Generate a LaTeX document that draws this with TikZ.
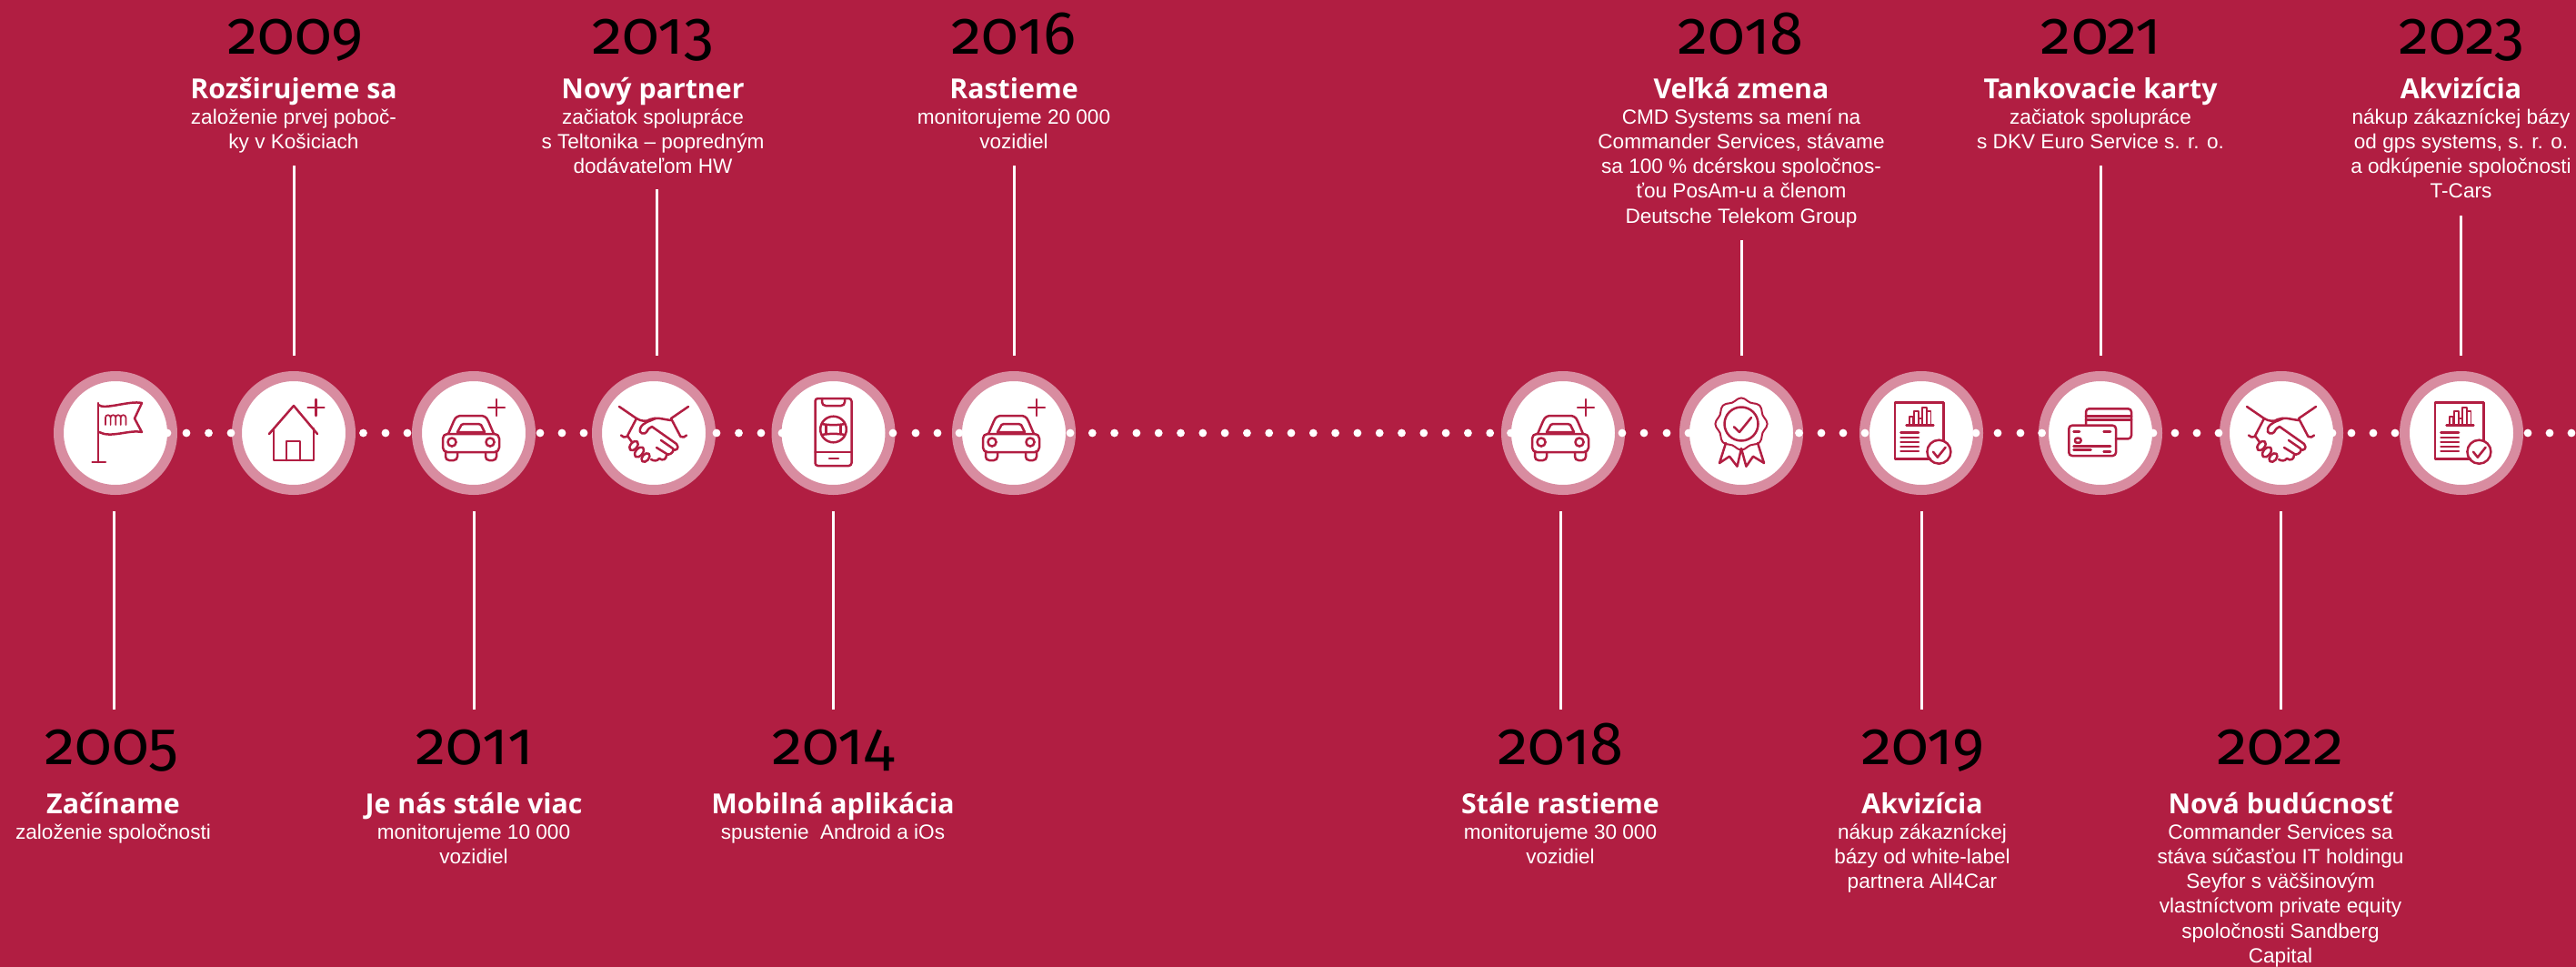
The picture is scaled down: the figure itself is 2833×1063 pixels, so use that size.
\documentclass[tikz,border=0pt]{standalone}
\usepackage{fontspec}
\setmainfont{Liberation Sans}
\newfontfamily\yearfont[Numbers=OldStyle]{Fira Sans}
\newfontfamily\titlefont[BoldFont={* Bold}]{Open Sans}
\definecolor{crim}{RGB}{177,30,66}
\definecolor{ringc}{RGB}{216,140,160}
\tikzset{
  yearnode/.style={anchor=base,inner sep=0pt,text=black,font=\yearfont\fontsize{67}{67}\selectfont},
  titlenode/.style={anchor=base,inner sep=0pt,text=white,font=\titlefont\bfseries\fontsize{30.3}{30.3}\selectfont},
  bodynode/.style={anchor=north,inner sep=0pt,text=white,align=center,font=\fontsize{22.6}{27.2}\selectfont},
  ringnode/.style={circle,draw=ringc,fill=white,line width=11pt,minimum size=125pt,inner sep=0pt},
  connline/.style={draw=white,line width=3pt},
  ic/.style={draw=crim,line width=2.5pt,line cap=round,line join=round,fill=none},
  dotmark/.style={fill=white},
  plusmark/.pic={\draw[ic] (-9,0) -- (9,0) (0,-9) -- (0,9);},
  flagicon/.pic={
    \draw[ic] (-19,-33) -- (-19,32) (-25.5,32) -- (-11,32);
    \draw[ic] (-19,-31) .. controls (-12,-25) and (15,-36) .. (29,-33) -- (21,-16) -- (29,-1)
       .. controls (15,-4) and (-5,6) .. (-18,-1);
    \draw[ic,line width=1.7pt] (-11,-9) -- (-11,-17) arc[start angle=180,end angle=0,radius=2.8pt] -- (-5.4,-9)
       (-5.4,-17) arc[start angle=180,end angle=0,radius=2.8pt] -- (0.2,-9)
       (0.2,-17) arc[start angle=180,end angle=0,radius=2.8pt] -- (5.8,-9)
       (5.8,-17) arc[start angle=180,end angle=0,radius=2.8pt] -- (11.4,-9);
  },
  houseicon/.pic={
    \draw[ic] (-27,1) -- (0,-30) -- (26,1);
    \draw[ic] (-22,-5) -- (-22,30) -- (22,30) -- (22,-5);
    \draw[ic] (-8,30) -- (-8,9) -- (7,9) -- (7,30);
    \path (24.5,-28) pic {plusmark};
  },
  caricon/.pic={
    \draw[ic] (-28,1) -- (-22,-13) .. controls (-20,-18) and (-17,-19) .. (-13,-19) -- (7,-19)
      .. controls (11,-19) and (14,-18) .. (16,-13) -- (22,1);
    \draw[ic] (-18,-1) -- (-13.5,-9) .. controls (-13,-10) and (-12,-10) .. (-11,-10) -- (5,-10)
      .. controls (6,-10) and (7,-10) .. (8,-9) -- (12,-1) -- cycle;
    \draw[ic,rounded corners=5pt] (-34,1) rectangle (28,21);
    \draw[ic,rounded corners=4pt] (-31,21) -- (-31,30) -- (-18,30) -- (-18,21);
    \draw[ic,rounded corners=4pt] (13,21) -- (13,30) -- (25,30) -- (25,21);
    \draw[ic] (-24,10) circle (4.6pt) (18,10) circle (4.6pt);
    \path (25,-28) pic {plusmark};
  },
  shakeicon/.pic={
    \draw[ic] (-38,-29) -- (-19,-16) -- (-29.5,4) (-36,2.5) -- (-33,4.5) -- (-29.5,4);
    \draw[ic] (38,-29) -- (19,-16) -- (29.5,4) (36,2.5) -- (33,4.5) -- (29.5,4);
    \draw[ic] (-19,-16) .. controls (-14,-13) and (-8,-12) .. (-4,-15) .. controls (3,-18) and (10,-15) .. (19,-14);
    \draw[ic] (2,-16) .. controls (-4,-13) and (-12,-12) .. (-15,-5) .. controls (-17,1) and (-10,2) .. (-8,-1)
      .. controls (-6,-5) and (-4,-6) .. (-2,-7) -- (25,12) .. controls (29,17) and (24,20) .. (21,18);
    \draw[ic] (8,8) -- (21,17) (3,16) -- (16,24);
    \draw[ic] (22,18) .. controls (20,24) and (17,23) .. (14,24) .. controls (14,29) and (10,31) .. (6,28) .. controls (4,31) and (0,31) .. (-3,29);
    \draw[ic] (-29,3) -- (-24,10);
    \draw[ic,rotate around={50:(-22,14)}] (-22,14) ellipse[x radius=6pt,y radius=3.6pt];
    \draw[ic,rotate around={50:(-16,21)}] (-16,21) ellipse[x radius=6.5pt,y radius=3.8pt];
    \draw[ic,rotate around={50:(-9,27)}] (-9,27) ellipse[x radius=5.5pt,y radius=3.6pt];
  },
  phoneicon/.pic={
    \draw[ic,rounded corners=3pt] (-20,-38) rectangle (20,36);
    \draw[ic,rounded corners=4pt] (-12.5,-38) -- (-12.5,-30) -- (12.5,-30) -- (12.5,-38);
    \draw[ic] (-20,21) -- (20,21) (-4.5,28) -- (5.5,28);
    \draw[ic] (0,-4) circle (14.3pt);
    \draw[ic] (-12.5,-10) .. controls (-6,-8.5) and (6,-8.5) .. (12.5,-10);
    \draw[ic] (-12.5,2) .. controls (-6,0.5) and (6,0.5) .. (12.5,2);
    \draw[ic] (-8,-9) -- (-8,1) (8,-9) -- (8,1);
  },
  rosetteicon/.pic={
    \draw[ic,line width=2pt] plot[smooth cycle,samples=48,domain=0:352.5] ({(27+1.6*cos(8*\x))*cos(\x)},{-10+(27+1.6*cos(8*\x))*sin(\x)});
    \draw[ic] (0,-10) circle (18.5pt);
    \draw[ic] (-8,-6.7) -- (-2,-1) -- (11,-17);
    \draw[ic] (-17,11) -- (-24,33) -- (-13,25.7) -- (-4.5,36.7) -- (0,17) -- (5.4,36.7) -- (13,25.7) -- (25,33) -- (18,11);
  },
  docicon/.pic={
    \draw[ic] (10,28.3) -- (-29,28.3) -- (-29,-33.7) -- (24.5,-33.7) -- (24.5,9);
    \draw[ic] (-16.5,-8.7) -- (13.4,-8.7);
    \draw[ic,line width=1.7pt] (-13,-8.7) -- (-13,-18) -- (-9,-18) -- (-9,-8.7)
      (-8,-8.7) -- (-8,-24) -- (-3,-24) -- (-3,-8.7) (-3,-16) -- (1,-16)
      (1,-8.7) -- (1,-28) -- (6,-28) -- (6,-8.7) (6.5,-23.7) -- (10.5,-23.7) -- (10.5,-8.7);
    \draw[ic] (-22.6,-0.3) -- (-3,-0.3) (-22.6,5) -- (-3,5) (-22.6,10) -- (-3,10) (-22.6,15) -- (-3,15) (-22.6,20) -- (-3,20);
    \draw[ic] (19.4,20.7) circle (13pt);
    \draw[ic] (13,20.7) -- (17.8,26.7) -- (26.6,15.7);
  },
  cardicon/.pic={
    \draw[ic,rounded corners=3.5pt] (-16,-8.3) -- (-16,-26.7) -- (34,-26.7) -- (34,6.3) -- (17,6.3);
    \draw[ic] (-16,-18.7) -- (34,-18.7) (-16,-14.3) -- (34,-14.3);
    \draw[ic,rounded corners=3.5pt] (-34.7,-8.3) rectangle (17,25);
    \draw[ic] (-29.5,-1.3) -- (-23,-1.3) (3.6,-1.3) -- (11,-1.3);
    \draw[ic,rounded corners=2pt] (-28,5.7) rectangle (-21.5,10.7);
    \draw[ic] (-29.5,14.7) -- (11,14.7) (-29.5,18.7) -- (-10.5,18.7) (3.6,20.7) -- (11,20.7);
  }
}
% event text: id, year x, text x, year text, title, body, year base, title base, body top
\newcommand{\evtext}[9]{%
  \node[yearnode] (#1y) at (#2,#7) {#4};
  \node[titlenode] (#1t) at (#3,#8) {#5};
  \node[bodynode] (#1b) at (#3,#9) {\rule{0pt}{17pt}#6};
}
\newcommand{\evtop}[6]{\evtext{#1}{#2}{#3}{#4}{#5}{#6}{59}{108}{119}}
\newcommand{\evbot}[6]{\evtext{#1}{#2}{#3}{#4}{#5}{#6}{840}{894}{905}}
\newcommand{\conn}[4]{%
  \coordinate (#1a) at (#2,#3);
  \coordinate (#1b) at (#2,#4);
  \draw[connline] (#1a) -- (#1b);
}
\begin{document}
\begin{tikzpicture}[x=1pt,y=-1pt]
\useasboundingbox (0,0) rectangle (2833,1063);
\fill[crim] (0,0) rectangle (2833,1063);
% rings and icons
\foreach \n/\cx/\ic in {a/127/flagicon,b/323/houseicon,c/521/caricon,d/719/shakeicon,e/916.5/phoneicon,f/1115/caricon,g/1719/caricon,h/1915/rosetteicon,i/2113/docicon,j/2310/cardicon,k/2509/shakeicon,l/2707/docicon}{
  \node[ringnode] (c\n) at (\cx,476) {};
  \path (c\n.center) pic {\ic};
}
% dots
\foreach \x in {184,205,229.5,254,399.5,424,448,594,618,642,788,812.5,837,860,982,1007,1031,1055,
  1784,1808,1833,1857,1978.5,2003,2027,2051,2173,2197,2222,2245.6,2368,2392,2416,2440,2565,2586,2610,2634,2780,2804,2828}
  \fill[dotmark] (\x,476) circle (4.4pt);
\foreach \k in {0,...,19}
  \fill[dotmark] ({1177+\k*24.3},476) circle (4.4pt);
\fill[dotmark] (1661.5,476) circle (4.4pt);
% connectors
\conn{la}{125}{562}{780}
\conn{lb}{323}{182}{391}
\conn{lc}{521}{562}{780}
\conn{ld}{722}{208}{391}
\conn{le}{916.5}{562}{780}
\conn{lf}{1115}{182}{391}
\conn{lg}{1716}{562}{780}
\conn{lh}{1915}{264}{391}
\conn{li}{2113}{562}{780}
\conn{lj}{2310}{182}{391}
\conn{lk}{2508}{562}{780}
\conn{ll}{2706.5}{237}{391}
% texts
\evbot{ta}{123}{124.5}{2005}{Začíname}{založenie spoločnosti}
\evtop{tb}{325}{323}{2009}{Rozširujeme sa}{založenie prvej poboč-\\ky v Košiciach}
\evbot{tc}{522}{521}{2011}{Je nás stále viac}{monitorujeme 10 000\\vozidiel}
\evtop{td}{718}{718}{2013}{Nový partner}{začiatok spolupráce\\s Teltonika – popredným\\dodávateľom HW}
\evbot{te}{916}{916}{2014}{Mobilná aplikácia}{spustenie \ Android a iOs}
\evtop{tf}{1115}{1115}{2016}{Rastieme}{monitorujeme 20 000\\vozidiel}
\evbot{tg}{1716.5}{1716}{2018}{Stále rastieme}{monitorujeme 30 000\\vozidiel}
\evtop{th}{1914.5}{1915}{2018}{Veľká zmena}{CMD Systems sa mení na\\Commander Services, stávame\\sa 100 \% dcérskou spoločnos-\\ťou PosAm-u a členom\\Deutsche Telekom Group}
\evbot{ti}{2115}{2114}{2019}{Akvizícia}{nákup zákazníckej\\bázy od white-label\\partnera All4Car}
\evtop{tj}{2311}{2310}{2021}{Tankovacie karty}{začiatok spolupráce\\s DKV Euro Service s. r. o.}
\evbot{tk}{2508}{2508}{2022}{Nová budúcnosť}{Commander Services sa\\stáva súčasťou IT holdingu\\Seyfor s väčšinovým\\vlastníctvom private equity\\spoločnosti Sandberg\\Capital}
\evtop{tl}{2707}{2706.5}{2023}{Akvizícia}{nákup zákazníckej bázy\\od gps systems, s. r. o.\\a odkúpenie spoločnosti\\T-Cars}
\end{tikzpicture}
\end{document}
